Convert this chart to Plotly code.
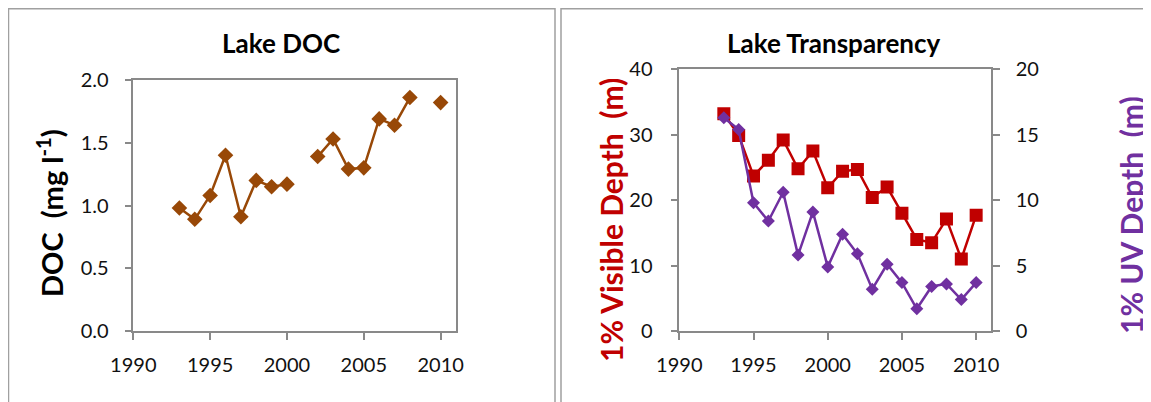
import plotly.graph_objects as go

# ---------------- data ----------------
years = list(range(1993, 2011))
doc_values = [0.98, 0.89, 1.08, 1.40, 0.91, 1.20, 1.15, 1.17, None,
              1.39, 1.53, 1.29, 1.30, 1.69, 1.64, 1.86, None, 1.82]
visible_depth = [33.2, 29.9, 23.7, 26.1, 29.2, 24.8, 27.5, 21.9, 24.4,
                 24.7, 20.4, 22.0, 18.0, 14.0, 13.5, 17.1, 11.0, 17.7]
uv_depth = [16.3, 15.4, 9.8, 8.4, 10.6, 5.8, 9.1, 4.9, 7.4,
            5.9, 3.2, 5.1, 3.7, 1.7, 3.4, 3.6, 2.4, 3.7]
x_ticks = [1990, 1995, 2000, 2005, 2010]
doc_ticks = [0.0, 0.5, 1.0, 1.5, 2.0]
vis_ticks = [0, 10, 20, 30, 40]
uv_ticks = [0, 5, 10, 15, 20]

W, H = 1151, 402
OFF = 8  # page body margin offset
BROWN = "#984807"
RED = "#C00000"
PURPLE = "#7030A0"
AXIS = "#898989"
FONT = "Lato"

def px(x):
    return (x - OFF) / W

def py(y):
    return 1 - (y - OFF) / H

fig = go.Figure()
fig.add_trace(go.Scatter(x=years, y=doc_values, mode="lines+markers",
                         line=dict(color=BROWN, width=2.5),
                         marker=dict(symbol="diamond", size=12, color=BROWN),
                         xaxis="x", yaxis="y", showlegend=False))
fig.add_trace(go.Scatter(x=years, y=visible_depth, mode="lines+markers",
                         line=dict(color=RED, width=2.5),
                         marker=dict(symbol="square", size=13, color=RED),
                         xaxis="x2", yaxis="y2", showlegend=False))
fig.add_trace(go.Scatter(x=years, y=uv_depth, mode="lines+markers",
                         line=dict(color=PURPLE, width=2.5),
                         marker=dict(symbol="diamond", size=10, color=PURPLE),
                         xaxis="x2", yaxis="y3", showlegend=False))

axis_common = dict(showline=True, linecolor=AXIS, linewidth=1.5,
                   showgrid=False, zeroline=False, ticks="outside",
                   ticklen=7, tickwidth=1.5, tickcolor=AXIS,
                   tickfont=dict(family=FONT, size=20, color="#111111"))

xdom1 = [px(133.3), px(456)]
xdom2 = [px(679.3), px(991)]
ybot = py(331)

fig.update_layout(
    width=W, height=H,
    margin=dict(l=0, r=0, t=0, b=0, autoexpand=False),
    paper_bgcolor="white", plot_bgcolor="white",
    xaxis=dict(domain=xdom1, anchor="y", range=[1990, 2011],
               tickvals=x_ticks, mirror=True, ticklabelstandoff=8, **axis_common),
    yaxis=dict(domain=[ybot, py(80)], anchor="x", range=[0, 2],
               tickvals=doc_ticks, tickformat=".1f", mirror=True,
               ticklabelstandoff=12, **axis_common),
    xaxis2=dict(domain=xdom2, anchor="y2", range=[1990, 2011],
                tickvals=x_ticks, mirror=True, ticklabelstandoff=8, **axis_common),
    yaxis2=dict(domain=[ybot, py(69.3)], anchor="x2", range=[0, 40],
                tickvals=vis_ticks, mirror=True, ticklabelstandoff=14, **axis_common),
    yaxis3=dict(overlaying="y2", anchor="x2", side="right", range=[0, 20],
                tickvals=uv_ticks, ticklabelstandoff=12, **axis_common),
)

# panel borders
border = dict(color="#A0A0A0", width=1.5)
fig.add_shape(type="rect", xref="paper", yref="paper",
              x0=px(8.5), x1=px(555), y0=-0.1, y1=py(8.7), line=border)
fig.add_shape(type="rect", xref="paper", yref="paper",
              x0=px(561), x1=1.1, y0=-0.1, y1=py(8.7), line=border)

def ann(text, x, y, size, color="black", angle=0):
    fig.add_annotation(text=text, xref="paper", yref="paper",
                       x=px(x), y=py(y), xanchor="center", yanchor="middle",
                       showarrow=False, textangle=angle,
                       font=dict(family=FONT, size=size, color=color, weight="bold"))

NB = "\u00a0"
ann("Lake DOC", 281, 43, 26)
ann("Lake Transparency", 833, 43, 26)
ann("DOC" + NB + NB + "(mg l<sup>-1</sup>)", 50, 213, 29, angle=-90)
ann("1% Visible Depth" + NB + NB + "(m)", 611, 220, 30, color=RED, angle=-90)
ann("1% UV Depth" + NB + NB + "(m)", 1131, 215, 30, color=PURPLE, angle=-90)

fig.write_html("out.html")
